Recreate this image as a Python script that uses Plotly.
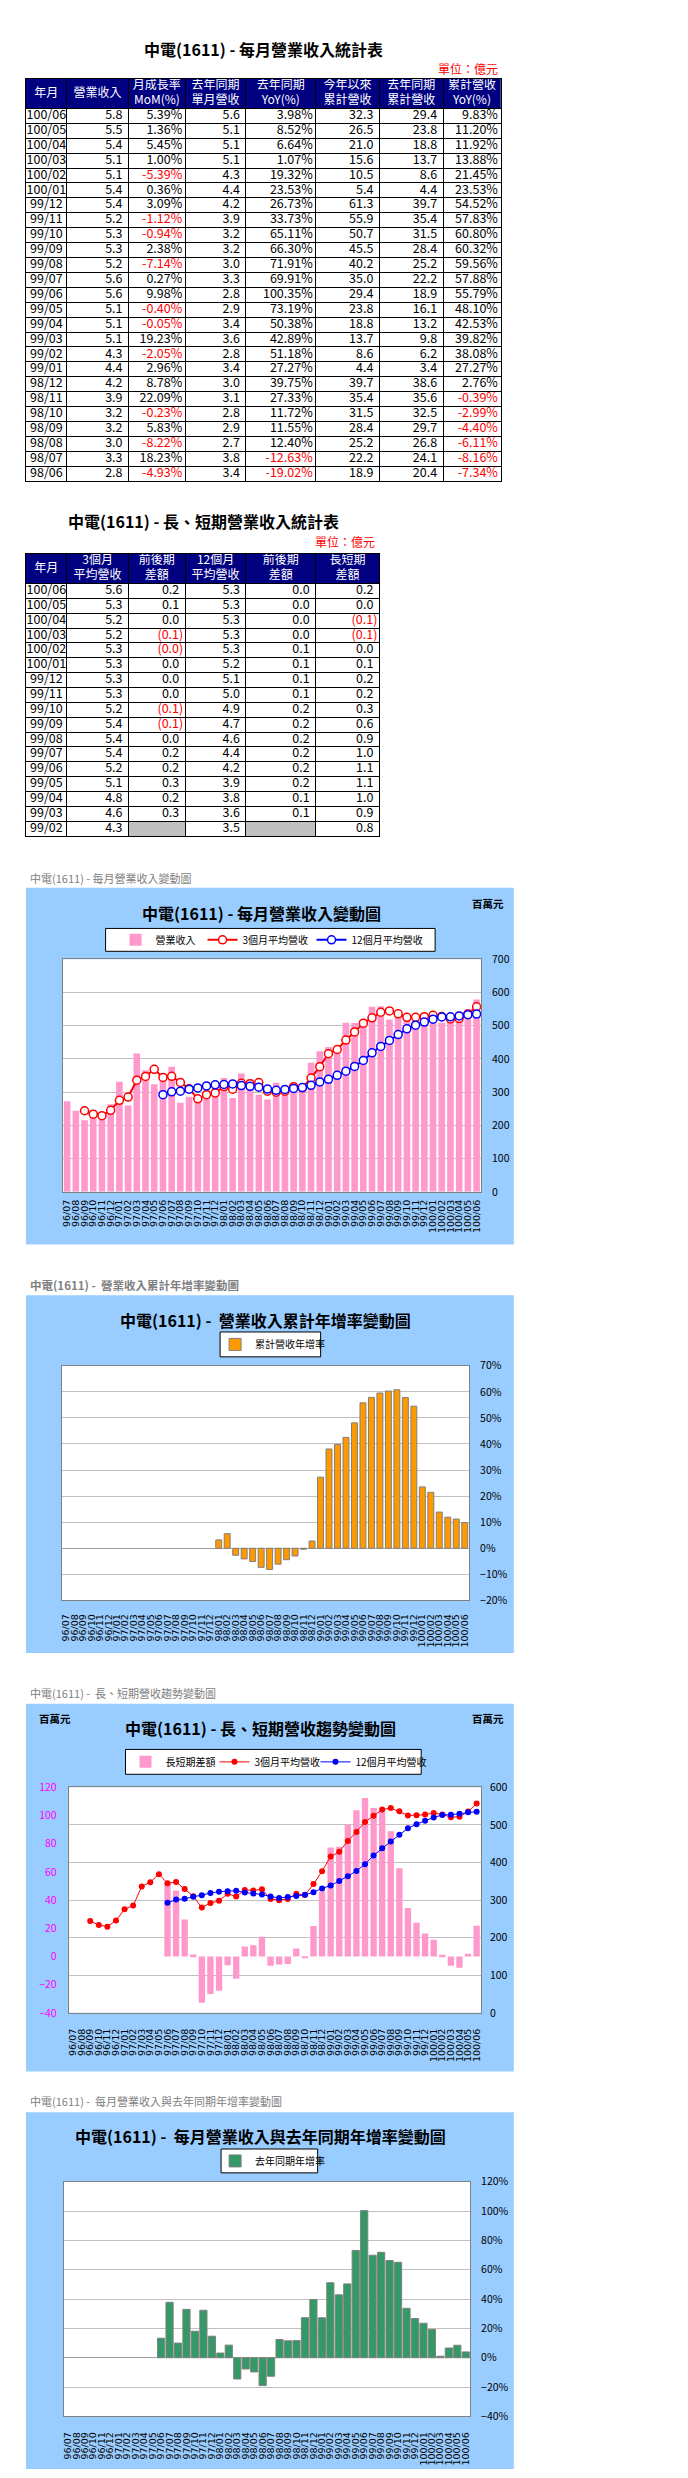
import plotly.graph_objects as go

W, H = 688, 2478
def px(x): return x / W
def py(y): return 1 - y / H

NARROW = "Liberation Sans Narrow, Arial Narrow, Noto Sans CJK TC, sans-serif"
CJK = "Noto Sans CJK TC, Noto Sans CJK SC, sans-serif"
XTICK = "DejaVu Sans, Verdana, sans-serif"

# ---------------- data ----------------
months = ["96/07","96/08","96/09","96/10","96/11","96/12",
          "97/01","97/02","97/03","97/04","97/05","97/06","97/07","97/08","97/09","97/10","97/11","97/12",
          "98/01","98/02","98/03","98/04","98/05","98/06","98/07","98/08","98/09","98/10","98/11","98/12",
          "99/01","99/02","99/03","99/04","99/05","99/06","99/07","99/08","99/09","99/10","99/11","99/12",
          "100/01","100/02","100/03","100/04","100/05","100/06"]

revenue = [273.0, 244.0, 215.2, 241.5, 230.7, 263.9,
           331.7, 259.9, 416.3, 366.2, 323.8, 343.3, 376.2, 268.4, 286.2, 285.2, 305.4, 302.7,
           342.3, 282.2, 355.9, 338.0, 292.4, 278.0, 328.7, 301.7, 319.3, 318.6, 388.9, 423.0,
           435.6, 426.6, 508.6, 508.3, 506.3, 556.9, 558.4, 518.5, 530.9, 525.8, 519.9, 536.0,
           537.9, 508.8, 514.0, 542.0, 549.3, 579.0]

avg3 = [None, None, 244.1, 233.6, 229.1, 245.4,
        275.4, 285.2, 336.0, 347.5, 368.8, 344.4, 347.8, 329.3, 310.3, 279.9, 292.3, 297.8,
        316.8, 309.1, 326.8, 325.4, 328.8, 302.8, 299.7, 302.8, 316.6, 313.2, 342.3, 376.8,
        415.8, 428.4, 456.9, 481.2, 507.7, 523.8, 540.5, 544.6, 535.9, 525.1, 525.5, 527.2,
        531.3, 527.6, 520.2, 521.6, 535.1, 556.8]

avg12 = [None, None, None, None, None, None,
         None, None, None, None, None, 292.5, 301.1, 303.1, 309.0, 312.7, 318.9, 322.1,
         323.0, 324.9, 319.8, 317.5, 314.9, 309.4, 305.5, 308.2, 311.0, 313.8, 320.7, 330.8,
         338.5, 350.6, 363.3, 377.5, 395.3, 418.5, 437.7, 455.8, 473.4, 490.7, 501.6, 511.0,
         519.5, 526.4, 526.8, 529.6, 533.2, 535.0]

long_short = [None, None, None, None, None, None,
              None, None, None, None, None, 51.9, 46.7, 26.2, 1.3, -32.8, -26.6, -24.3,
              -6.2, -15.8, 7.0, 7.9, 13.9, -6.6, -5.8, -5.4, 5.6, -0.6, 21.6, 46.0,
              77.3, 77.8, 93.6, 103.7, 112.4, 105.3, 102.8, 88.8, 62.5, 34.4, 23.9, 16.2,
              11.8, 1.2, -6.6, -8.0, 1.9, 21.8]

cum_yoy = [None, None, None, None, None, None,
           None, None, None, None, None, None, None, None, None, None, None, None,
           3.2, 5.6, -2.7, -4.1, -5.1, -7.34, -8.16, -6.11, -4.40, -2.99, -0.39, 2.76,
           27.27, 38.08, 39.82, 42.53, 48.10, 55.79, 57.88, 59.56, 60.32, 60.80, 57.83, 54.52,
           23.53, 21.45, 13.88, 11.92, 11.20, 9.83]

mon_yoy = [None, None, None, None, None, None,
           None, None, None, None, None, 13.3, 37.8, 10.0, 33.0, 18.1, 32.4, 14.7,
           3.2, 8.6, -14.5, -7.7, -9.7, -19.02, -12.63, 12.40, 11.55, 11.72, 27.33, 39.75,
           27.27, 51.18, 42.89, 50.38, 73.19, 100.35, 69.91, 71.91, 66.30, 65.11, 33.73, 26.73,
           23.53, 19.32, 1.07, 6.64, 8.52, 3.98]

# table 1
t1_month = ["100/06","100/05","100/04","100/03","100/02","100/01","99/12","99/11","99/10","99/09",
            "99/08","99/07","99/06","99/05","99/04","99/03","99/02","99/01","98/12","98/11",
            "98/10","98/09","98/08","98/07","98/06"]
t1_rev = [5.8,5.5,5.4,5.1,5.1,5.4,5.4,5.2,5.3,5.3,5.2,5.6,5.6,5.1,5.1,5.1,4.3,4.4,4.2,3.9,3.2,3.2,3.0,3.3,2.8]
t1_mom = [5.39,1.36,5.45,1.00,-5.39,0.36,3.09,-1.12,-0.94,2.38,-7.14,0.27,9.98,-0.40,-0.05,19.23,-2.05,2.96,
          8.78,22.09,-0.23,5.83,-8.22,18.23,-4.93]
t1_ly = [5.6,5.1,5.1,5.1,4.3,4.4,4.2,3.9,3.2,3.2,3.0,3.3,2.8,2.9,3.4,3.6,2.8,3.4,3.0,3.1,2.8,2.9,2.7,3.8,3.4]
t1_yoy = [3.98,8.52,6.64,1.07,19.32,23.53,26.73,33.73,65.11,66.30,71.91,69.91,100.35,73.19,50.38,42.89,51.18,
          27.27,39.75,27.33,11.72,11.55,12.40,-12.63,-19.02]
t1_ytd = [32.3,26.5,21.0,15.6,10.5,5.4,61.3,55.9,50.7,45.5,40.2,35.0,29.4,23.8,18.8,13.7,8.6,4.4,39.7,35.4,
          31.5,28.4,25.2,22.2,18.9]
t1_lytd = [29.4,23.8,18.8,13.7,8.6,4.4,39.7,35.4,31.5,28.4,25.2,22.2,18.9,16.1,13.2,9.8,6.2,3.4,38.6,35.6,
           32.5,29.7,26.8,24.1,20.4]
t1_cyoy = [9.83,11.20,11.92,13.88,21.45,23.53,54.52,57.83,60.80,60.32,59.56,57.88,55.79,48.10,42.53,39.82,
           38.08,27.27,2.76,-0.39,-2.99,-4.40,-6.11,-8.16,-7.34]
t1_headers = ["年月", "營業收入", "月成長率<br>MoM(%)", "去年同期<br>單月營收", "去年同期<br>YoY(%)",
              "今年以來<br>累計營收", "去年同期<br>累計營收", "累計營收<br>YoY(%)"]

# table 2
t2_month = ["100/06","100/05","100/04","100/03","100/02","100/01","99/12","99/11","99/10","99/09",
            "99/08","99/07","99/06","99/05","99/04","99/03","99/02"]
t2_avg3 = [5.6,5.3,5.2,5.2,5.3,5.3,5.3,5.3,5.2,5.4,5.4,5.4,5.2,5.1,4.8,4.6,4.3]
t2_d3 = [0.2,0.1,0.0,-0.1,-0.04,0.0,0.0,0.0,-0.1,-0.1,0.0,0.2,0.2,0.3,0.2,0.3,None]
t2_avg12 = [5.3,5.3,5.3,5.3,5.3,5.2,5.1,5.0,4.9,4.7,4.6,4.4,4.2,3.9,3.8,3.6,3.5]
t2_d12 = [0.0,0.0,0.0,0.0,0.1,0.1,0.1,0.1,0.2,0.2,0.2,0.2,0.2,0.2,0.1,0.1,None]
t2_ls = [0.2,0.0,-0.1,-0.1,0.0,0.1,0.2,0.2,0.3,0.6,0.9,1.0,1.1,1.1,1.0,0.9,0.8]
t2_headers = ["年月", "3個月<br>平均營收", "前後期<br>差額", "12個月<br>平均營收", "前後期<br>差額", "長短期<br>差額"]

# ---------------- layout constants ----------------
t1_w = [41, 62, 57, 61, 70, 64, 64, 58]
t2_w = [41, 62, 57, 61, 70, 64]

fig = go.Figure()
shapes = []
annotations = []

def cum(ws):
    out = [0]
    for w in ws:
        out.append(out[-1] + w)
    return out

def fmt_num(v): return f"{v:.1f}"
def fmt_pct(v): return f"{v:.2f}%"
def fmt_par(v): return f"({abs(v):.1f})" if v < 0 else f"{v:.1f}"

def add_table(xa, ya, widths, headers, columns):
    edges = cum(widths)
    for j, h in enumerate(headers):
        fig.add_trace(go.Scatter(
            x=[(edges[j] + edges[j + 1]) / 2], y=[1], text=[h], mode="text",
            textposition="middle center", textfont=dict(family=NARROW, size=12, color="white"),
            xaxis=xa, yaxis=ya, showlegend=False, hoverinfo="skip"))
    for j, (vals, kind) in enumerate(columns):
        xs, ys, ts, cs, pos = [], [], [], [], []
        for i, v in enumerate(vals):
            if v is None:
                continue
            ys.append(2 + i + 0.5)
            if kind == "label":
                xs.append((edges[j] + edges[j + 1]) / 2); ts.append(v); cs.append("black")
                pos.append("middle center")
                continue
            neg = v < 0
            if kind == "num":
                ts.append(fmt_num(v)); xs.append(edges[j + 1] - 6)
            elif kind == "pct":
                ts.append(fmt_pct(v)); xs.append(edges[j + 1] - 3)
            else:
                ts.append(fmt_par(v)); xs.append(edges[j + 1] - (2 if neg else 6))
            cs.append("#FF0000" if neg else "black")
            pos.append("middle left")
        fig.add_trace(go.Scatter(
            x=xs, y=ys, text=ts, mode="text", textposition=pos,
            textfont=dict(family=NARROW, size=12.5, color=cs),
            xaxis=xa, yaxis=ya, showlegend=False, hoverinfo="skip", cliponaxis=False))
    return edges

# ---- table 1
e1 = add_table("x", "y", t1_w, t1_headers,
               [(t1_month, "label"), (t1_rev, "num"), (t1_mom, "pct"), (t1_ly, "num"),
                (t1_yoy, "pct"), (t1_ytd, "num"), (t1_lytd, "num"), (t1_cyoy, "pct")])
n1 = len(t1_month)
shapes.append(dict(type="rect", xref="x", yref="y", x0=0, x1=e1[-1], y0=0, y1=2,
                   fillcolor="#000080", line=dict(width=0), layer="below"))

# ---- table 2
e2 = add_table("x2", "y2", t2_w, t2_headers,
               [(t2_month, "label"), (t2_avg3, "num"), (t2_d3, "par"), (t2_avg12, "num"),
                (t2_d12, "par"), (t2_ls, "par")])
n2 = len(t2_month)
shapes.append(dict(type="rect", xref="x2", yref="y2", x0=0, x1=e2[-1], y0=0, y1=2,
                   fillcolor="#000080", line=dict(width=0), layer="below"))
for j, col in ((2, t2_d3), (4, t2_d12)):
    for i, v in enumerate(col):
        if v is None:
            shapes.append(dict(type="rect", xref="x2", yref="y2", x0=e2[j], x1=e2[j + 1],
                               y0=2 + i, y1=3 + i, fillcolor="#C0C0C0", line=dict(width=0), layer="below"))

def table_axes(edges, nrows, x0, x1, y0, y1):
    xa = dict(domain=[px(x0), px(x1)], range=[0, edges[-1]], showticklabels=False, ticks="",
              tickmode="array", tickvals=edges[1:-1], showgrid=True, gridcolor="black", gridwidth=1,
              zeroline=False, showline=True, mirror=True, linecolor="black", linewidth=1, fixedrange=True)
    ya = dict(domain=[py(y1), py(y0)], range=[nrows + 2, 0], showticklabels=False, ticks="",
              tickmode="array", tickvals=list(range(2, nrows + 2)), showgrid=True, gridcolor="black",
              gridwidth=1, zeroline=False, showline=True, mirror=True, linecolor="black", linewidth=1,
              fixedrange=True)
    return xa, ya

xa1, ya1 = table_axes(e1, n1, 16, 493, 63, 468)
xa2, ya2 = table_axes(e2, n2, 16, 371, 541, 825)
xa1["anchor"] = "y"; ya1["anchor"] = "x"
xa2["anchor"] = "y2"; ya2["anchor"] = "x2"

# ---------------- charts ----------------
PINK = "#FF99CC"
panels = [(877, 1236), (1287, 1647), (1698, 2068), (2109, 2468)]
plots = [(53, 949, 473, 1183), (52, 1358, 461, 1594), (59, 1782, 473, 2009), (54, 2179, 462, 2415)]
legboxes = [(96, 918, 427, 941), (211, 1324, 312, 1349), (116, 1744, 413, 1769), (212, 2146, 309, 2170)]

for (a, b) in panels:
    shapes.append(dict(type="rect", xref="paper", yref="paper", x0=px(16), x1=px(506), y0=py(b), y1=py(a),
                       fillcolor="#99CCFF", line=dict(width=0), layer="below"))
for (l, t, r, bt) in plots:
    shapes.append(dict(type="rect", xref="paper", yref="paper", x0=px(l), x1=px(r), y0=py(bt), y1=py(t),
                       fillcolor="white", line=dict(width=0), layer="below"))
for (l, t, r, bt) in legboxes:
    shapes.append(dict(type="rect", xref="paper", yref="paper", x0=px(l), x1=px(r), y0=py(bt), y1=py(t),
                       fillcolor="white", line=dict(color="black", width=1), layer="below"))

# chart 1
fig.add_trace(go.Bar(x=months, y=revenue, name="營業收入", marker=dict(color=PINK, line=dict(width=0)),
                     width=0.76, xaxis="x3", yaxis="y3", legend="legend", legendwidth=42, hoverinfo="skip"))
fig.add_trace(go.Scatter(x=months, y=avg3, name="3個月平均營收", mode="lines+markers",
                         line=dict(color="#FF0000", width=2),
                         marker=dict(symbol="circle", size=8, color="white", line=dict(color="#FF0000", width=1.5)),
                         xaxis="x3", yaxis="y3", legend="legend", legendwidth=64, hoverinfo="skip"))
fig.add_trace(go.Scatter(x=months, y=avg12, name="12個月平均營收", mode="lines+markers",
                         line=dict(color="#0000FF", width=2),
                         marker=dict(symbol="circle", size=8, color="white", line=dict(color="#0000FF", width=1.5)),
                         xaxis="x3", yaxis="y3", legend="legend", legendwidth=70, hoverinfo="skip"))

# chart 2
fig.add_trace(go.Bar(x=months, y=cum_yoy, name="累計營收年增率",
                     marker=dict(color="#FF9900", line=dict(color="#808080", width=1)),
                     width=0.7, xaxis="x4", yaxis="y4", legend="legend2", hoverinfo="skip"))

# chart 3
fig.add_trace(go.Bar(x=months, y=long_short, name="長短期差額", marker=dict(color=PINK, line=dict(width=0)),
                     width=0.74, xaxis="x5", yaxis="y5", legend="legend3", legendwidth=44, hoverinfo="skip"))
fig.add_trace(go.Scatter(x=months, y=avg3, name="3個月平均營收", mode="lines+markers",
                         line=dict(color="#FF0000", width=1), marker=dict(symbol="circle", size=6, color="#FF0000"),
                         xaxis="x5", yaxis="y6", legend="legend3", legendwidth=56, hoverinfo="skip"))
fig.add_trace(go.Scatter(x=months, y=avg12, name="12個月平均營收", mode="lines+markers",
                         line=dict(color="#0000FF", width=1), marker=dict(symbol="circle", size=6, color="#0000FF"),
                         xaxis="x5", yaxis="y6", legend="legend3", legendwidth=68, hoverinfo="skip"))

# chart 4
fig.add_trace(go.Bar(x=months, y=mon_yoy, name="去年同期年增率",
                     marker=dict(color="#339966", line=dict(color="#808080", width=1)),
                     width=0.85, xaxis="x6", yaxis="y7", legend="legend4", hoverinfo="skip"))

GRID = "#C0C0C0"
FRAME = "#808080"
def cat_axis(plot, anchor, standoff):
    l, t, r, b = plot
    return dict(domain=[px(l), px(r)], anchor=anchor, type="category", range=[-0.5, len(months) - 0.5],
                tickmode="array", tickvals=months, ticktext=months, tickangle=-90,
                tickfont=dict(family=XTICK, size=9.5, color="black"), ticks="", ticklabelstandoff=standoff,
                showgrid=False, zeroline=False, showline=True, mirror=True, linecolor=FRAME, linewidth=1,
                fixedrange=True)

def val_axis(plot, anchor, rng, dtick, side="right", suffix="", grid=True, color="black", standoff=8):
    l, t, r, b = plot
    return dict(domain=[py(b), py(t)], anchor=anchor, side=side, range=rng, dtick=dtick, tick0=0,
                ticksuffix=suffix, showgrid=grid, gridcolor=GRID, gridwidth=1,
                zeroline=False, showline=True, mirror=True, linecolor=FRAME, linewidth=1,
                tickfont=dict(family=NARROW, size=10.5, color=color), ticks="", ticklabelstandoff=standoff,
                fixedrange=True)

xa3 = cat_axis(plots[0], "y3", 3)
ya3 = val_axis(plots[0], "x3", [0, 700], 100)
xa4 = cat_axis(plots[1], "y4", 9)
ya4 = val_axis(plots[1], "x4", [-20, 70], 10, suffix="%")
ya4.update(zeroline=True, zerolinecolor="#A0A0A0", zerolinewidth=1)
xa5 = cat_axis(plots[2], "y5", 11)
ya5 = val_axis(plots[2], "x5", [-40, 120], 20, side="left", grid=False, color="#FF00FF", standoff=9)
ya6 = val_axis(plots[2], "x5", [0, 600], 100, side="right")
ya6.update(overlaying="y5", showline=False, mirror=False)
xa6 = cat_axis(plots[3], "y7", 11)
ya7 = val_axis(plots[3], "x6", [-40, 120], 20, suffix="%")
ya7.update(zeroline=True, zerolinecolor="#A0A0A0", zerolinewidth=1)

# ---------------- text ----------------
def ann(text, x, y, size, color="black", bold=False, xanchor="center", family=CJK):
    annotations.append(dict(text=f"<b>{text}</b>" if bold else text, x=px(x), y=py(y), xref="paper",
                            yref="paper", xanchor=xanchor, yanchor="middle", showarrow=False,
                            font=dict(family=family, size=size, color=color)))

titles = [("中電(1611) - 每月營業收入統計表", 255, 33),
          ("中電(1611) - 長、短期營業收入統計表", 194, 508),
          ("中電(1611) - 每月營業收入變動圖", 253, 902),
          ("中電(1611) -  營業收入累計年增率變動圖", 257, 1312),
          ("中電(1611) - 長、短期營收趨勢變動圖", 252, 1722),
          ("中電(1611) -  每月營業收入與去年同期年增率變動圖", 252, 2133)]
for t, x, y in titles:
    ann(t, x, y, 16, bold=True)

ann("單位：億元", 492, 53, 12, color="#FF0000", xanchor="right")
ann("單位：億元", 369, 529, 12, color="#FF0000", xanchor="right")
ann("百萬元", 480, 893, 10.5, bold=True)
ann("百萬元", 45, 1713, 10.5, bold=True)
ann("百萬元", 480, 1713, 10.5, bold=True)

ann("中電(1611) - 每月營業收入變動圖", 18, 867, 11, color="#808080", xanchor="left")
ann("中電(1611) -  營業收入累計年增率變動圖", 18, 1277, 11.5, color="#808080", bold=True, xanchor="left")
ann("中電(1611) -  長、短期營收趨勢變動圖", 18, 1687, 11, color="#808080", xanchor="left")
ann("中電(1611) -  每月營業收入與去年同期年增率變動圖", 18, 2098, 11, color="#808080", xanchor="left")

def leg(x, y, size):
    return dict(x=px(x), y=py(y), xanchor="left", yanchor="middle", orientation="h",
                bgcolor="rgba(0,0,0,0)", borderwidth=0, font=dict(family=CJK, size=size, color="black"),
                itemclick=False, itemdoubleclick=False, tracegroupgap=0)

fig.update_layout(
    width=W, height=H, autosize=False,
    margin=dict(l=0, r=0, t=0, b=0, pad=0),
    paper_bgcolor="white", plot_bgcolor="rgba(0,0,0,0)",
    hovermode=False, barmode="overlay",
    xaxis=xa1, yaxis=ya1, xaxis2=xa2, yaxis2=ya2,
    xaxis3=xa3, yaxis3=ya3, xaxis4=xa4, yaxis4=ya4,
    xaxis5=xa5, yaxis5=ya5, yaxis6=ya6, xaxis6=xa6, yaxis7=ya7,
    legend=leg(106, 929.5, 10),
    legend2=leg(206, 1336.5, 10),
    legend3=leg(116, 1756.5, 10),
    legend4=leg(206, 2158, 10),
    shapes=shapes, annotations=annotations,
)

fig.write_html("out.html")
